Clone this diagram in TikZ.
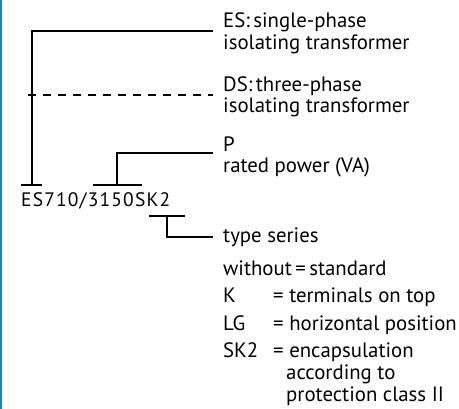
\documentclass[tikz,border=0pt]{standalone}
\usepackage{fontspec}
\setmainfont{PT Sans}
\definecolor{edgeblue}{RGB}{0,138,214}
\begin{document}
\begin{tikzpicture}[x=1pt,y=-1pt,
  conn/.style={line width=2pt,line cap=butt},
  lbl/.style={anchor=base west,inner sep=0pt,font=\fontsize{20.8}{22}\selectfont},
  codefont/.style={anchor=base west,inner sep=0pt,font=\fontsize{19.5}{22}\selectfont}]
\useasboundingbox (0,0) rectangle (459,409);
\fill[edgeblue] (0,0) rectangle (1.6,409);
% labels
\node[lbl] (es1) at (223,27.3) {ES:\,single-phase};
\node[lbl] (es2) at (223,49.3) {isolating transformer};
\node[lbl] (ds1) at (223,92) {DS:\,three-phase};
\node[lbl] (ds2) at (223,113) {isolating transformer};
\node[lbl] (p1) at (223,152) {P};
\node[lbl] (p2) at (223,173) {rated power (VA)};
\node[lbl] (ts) at (223,243) {type series};
\node[lbl] (wo) at (223,276) {without\,=\,standard};
\node[lbl] (k) at (223,303) {K};
\node[lbl] (lg) at (223,331) {LG};
\node[lbl] (sk) at (223,358) {SK2};
\node[lbl] (kd) at (273,303) {= terminals on top};
\node[lbl] (lgd) at (273,331) {= horizontal position};
\node[lbl] (skd) at (273,358) {= encapsulation};
\node[lbl] (skd2) at (286,380) {according to};
\node[lbl] (skd3) at (286,402) {protection class II};
% type code
\node[codefont] (code) at (21,207) {\addfontfeature{LetterSpace=6}ES710/3150SK2};
% connector coordinates
\coordinate (esL) at (21,185.5);
\coordinate (esR) at (42,185.5);
\coordinate (esV) at (32,185.5);
\coordinate (esTop) at (32,30.7);
\coordinate (esEnd) at (213,30.7);
\coordinate (dsStart) at (28,95);
\coordinate (dsEnd) at (213,95);
\coordinate (pL) at (93,185.5);
\coordinate (pR) at (142,185.5);
\coordinate (pV) at (117,185.5);
\coordinate (pTop) at (117,152.7);
\coordinate (pEnd) at (213,152.7);
\coordinate (skL) at (149,216);
\coordinate (skR) at (185,216);
\coordinate (skV) at (167,216);
\coordinate (skBot) at (167,237);
\coordinate (skEnd) at (213,237);
% connectors
\draw[conn] (esL) -- (esR);
\draw[conn] (esV) -- (esTop) -- (esEnd);
\draw[conn,dash pattern=on 8.3pt off 6.7pt] (dsStart) -- (dsEnd);
\draw[conn] (pL) -- (pR);
\draw[conn] (pV) -- (pTop) -- (pEnd);
\draw[conn] (skL) -- (skR);
\draw[conn] (skV) -- (skBot) -- (skEnd);
\end{tikzpicture}
\end{document}
